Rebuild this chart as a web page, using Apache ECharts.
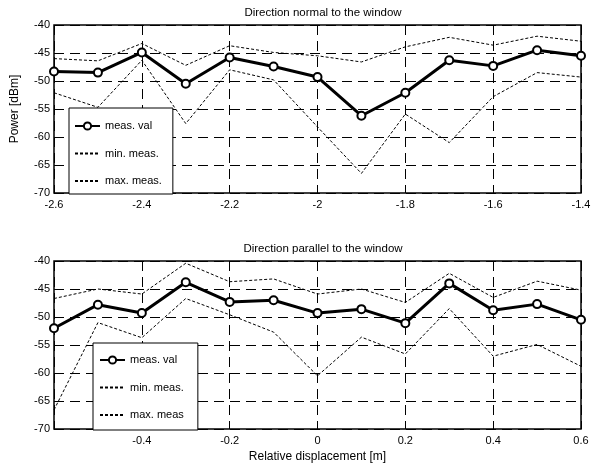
<!DOCTYPE html>
<html><head><meta charset="utf-8">
<script src="https://cdn.jsdelivr.net/npm/echarts@6/dist/echarts.min.js"></script>
<style>html,body{margin:0;padding:0;background:#fff}#c{width:595px;height:470px}</style>
</head><body><div id="c"></div>
<script>
// Top panel: direction normal to the window
const xTop = [-2.6,-2.5,-2.4,-2.3,-2.2,-2.1,-2.0,-1.9,-1.8,-1.7,-1.6,-1.5,-1.4];
const measTop = [-48.3,-48.5,-44.9,-50.5,-45.8,-47.4,-49.3,-56.2,-52.1,-46.3,-47.3,-44.5,-45.5];
const maxTop  = [-46.0,-46.4,-43.3,-47.2,-43.7,-44.9,-45.5,-46.6,-43.9,-42.2,-43.6,-42.0,-42.9];
const minTop  = [-52.1,-54.7,-46.3,-57.6,-48.0,-49.8,-58.2,-66.5,-55.9,-61.0,-52.8,-48.5,-49.3];
// Bottom panel: direction parallel to the window
const xBot = [-0.6,-0.5,-0.4,-0.3,-0.2,-0.1,0.0,0.1,0.2,0.3,0.4,0.5,0.6];
const measBot = [-52.0,-47.8,-49.3,-43.8,-47.3,-47.0,-49.3,-48.6,-51.1,-44.0,-48.8,-47.7,-50.5];
const maxBot  = [-46.7,-45.0,-45.9,-40.4,-43.7,-43.2,-45.9,-45.0,-47.4,-42.2,-46.5,-43.6,-45.2];
const minBot  = [-66.6,-51.0,-53.7,-46.7,-49.6,-52.7,-60.5,-53.6,-56.6,-48.5,-57.0,-54.9,-58.8];

const titles = ['Direction normal to the window','Direction parallel to the window'];
const namesTop = ['meas. val','min. meas.','max. meas.'];
const namesBot = ['meas. val ','min. meas. ','max. meas'];

const F = '"Liberation Sans",Arial,sans-serif';
const pair = (xs, ys) => xs.map((x,i)=>[x, ys[i]]);
const gridDash = {color:'#000', width:1, type:[10,6]};

function measSeries(name, idx, data){
  return {name, type:'line', xAxisIndex:idx, yAxisIndex:idx, data,
    symbol:'circle', symbolSize:8, showSymbol:true,
    lineStyle:{color:'#000', width:3},
    itemStyle:{color:'#fff', borderColor:'#000', borderWidth:2},
    z:5, animation:false};
}
function dashSeries(name, idx, data){
  return {name, type:'line', xAxisIndex:idx, yAxisIndex:idx, data,
    symbol:'none', lineStyle:{color:'#000', width:1, type:[3,2]},
    itemStyle:{color:'#000', opacity:0}, z:4, animation:false};
}
function xAx(idx, min, max, hideFirst, name){
  return {type:'value', gridIndex:idx, min, max, interval:0.2,
    axisLine:{show:false}, axisTick:{show:false},
    axisLabel:{color:'#000', fontFamily:F, fontSize:11, margin:6,
      formatter: v => (hideFirst && Math.abs(v-min)<1e-9) ? '' : String(Math.round(v*10)/10)},
    splitLine:{show:true, lineStyle:gridDash},
    name: name||'', nameLocation:'middle', nameGap:22,
    nameTextStyle:{color:'#000', fontFamily:F, fontSize:12}};
}
function yAx(idx, name){
  return {type:'value', gridIndex:idx, min:-70, max:-40, interval:5,
    axisLine:{show:false}, axisTick:{show:false},
    axisLabel:{color:'#000', fontFamily:F, fontSize:11, margin:4},
    splitLine:{show:true, lineStyle:gridDash},
    name: name||'', nameLocation:'middle', nameGap:33,
    nameTextStyle:{color:'#000', fontFamily:F, fontSize:12}};
}
function legend(names, left, top, pad){
  return {data:names.map(n=>({name:n})), orient:'vertical', left, top,
    itemWidth:25, itemHeight:9, itemGap:13.5,
    padding:pad, backgroundColor:'#fff', borderColor:'#000', borderWidth:1,
    borderRadius:0, selectedMode:false, z:10,
    textStyle:{color:'#000', fontFamily:F, fontSize:11, lineHeight:14}};
}

const option = {
  backgroundColor:'#fff',
  animation:false,
  title:[
    {text:titles[0], left:318, top:2, textAlign:'center', textStyle:{color:'#000', fontFamily:F, fontSize:11.5, fontWeight:'normal'}},
    {text:titles[1], left:318, top:238, textAlign:'center', textStyle:{color:'#000', fontFamily:F, fontSize:11.5, fontWeight:'normal'}}
  ],
  grid:[
    {left:54, top:25, width:527, height:168, show:true, borderColor:'#000', borderWidth:1.5, backgroundColor:'transparent', z:3},
    {left:54, top:261, width:527, height:168, show:true, borderColor:'#000', borderWidth:1.5, backgroundColor:'transparent', z:3}
  ],
  xAxis:[ xAx(0,-2.6,-1.4,false), xAx(1,-0.6,0.6,true,'Relative displacement [m]') ],
  yAxis:[ yAx(0,'Power [dBm]'), yAx(1) ],
  legend:[ legend(namesTop, 69, 108, [11,11,6,5]), legend(namesBot, 93, 343, [10,11,8,6]) ],
  series:[
    measSeries(namesTop[0],0,pair(xTop,measTop)),
    dashSeries(namesTop[1],0,pair(xTop,minTop)),
    dashSeries(namesTop[2],0,pair(xTop,maxTop)),
    measSeries(namesBot[0],1,pair(xBot,measBot)),
    dashSeries(namesBot[1],1,pair(xBot,minBot)),
    dashSeries(namesBot[2],1,pair(xBot,maxBot))
  ]
};
const chart = echarts.init(document.getElementById('c'), null, {renderer:'canvas'});
chart.setOption(option);
</script></body></html>
